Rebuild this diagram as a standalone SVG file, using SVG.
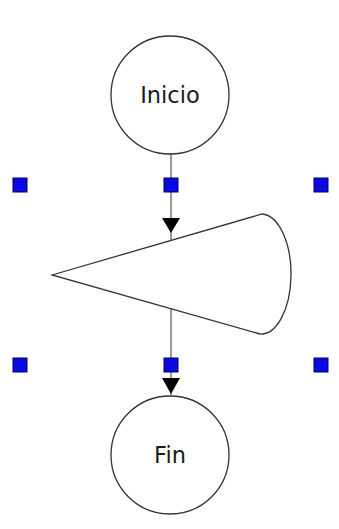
<svg xmlns="http://www.w3.org/2000/svg" width="339" height="529" viewBox="0 0 339 529">
<style>
.shape{fill:#ffffff;stroke:#333333;stroke-width:1.3}
.lbl{font-family:"DejaVu Sans","Liberation Sans",sans-serif;font-size:22.5px;fill:#1a1a1a;text-anchor:middle}
.conn{stroke:#777777;stroke-width:1.5;fill:none}
.head{fill:#000000}
.handle{fill:#0a0ae0;stroke:#00006a;stroke-width:1}
</style>
<rect width="339" height="529" fill="#ffffff"/>
<g id="connectors">
<line class="conn" x1="171" y1="154" x2="171" y2="240"/>
<polygon class="head" points="162,218 180,218 171,233"/>
<line class="conn" x1="171" y1="308" x2="171" y2="395"/>
<polygon class="head" points="162,378 180,378 171,394"/>
</g>
<g id="inicio">
<circle class="shape" cx="170" cy="95" r="59"/>
<text class="lbl" x="170" y="103">Inicio</text>
</g>
<g id="decision">
<path class="shape" d="M52,275 L262,214 A30,60 0 0 1 260,334 Z"/>
</g>
<g id="fin">
<circle class="shape" cx="170" cy="455" r="59"/>
<text class="lbl" x="170" y="463">Fin</text>
</g>
<g id="handles">
<rect class="handle" x="13" y="178" width="14" height="14"/>
<rect class="handle" x="164" y="178" width="14" height="14"/>
<rect class="handle" x="314" y="178" width="14" height="14"/>
<rect class="handle" x="13" y="358" width="14" height="14"/>
<rect class="handle" x="164" y="358" width="14" height="14"/>
<rect class="handle" x="314" y="358" width="14" height="14"/>
</g>
</svg>
